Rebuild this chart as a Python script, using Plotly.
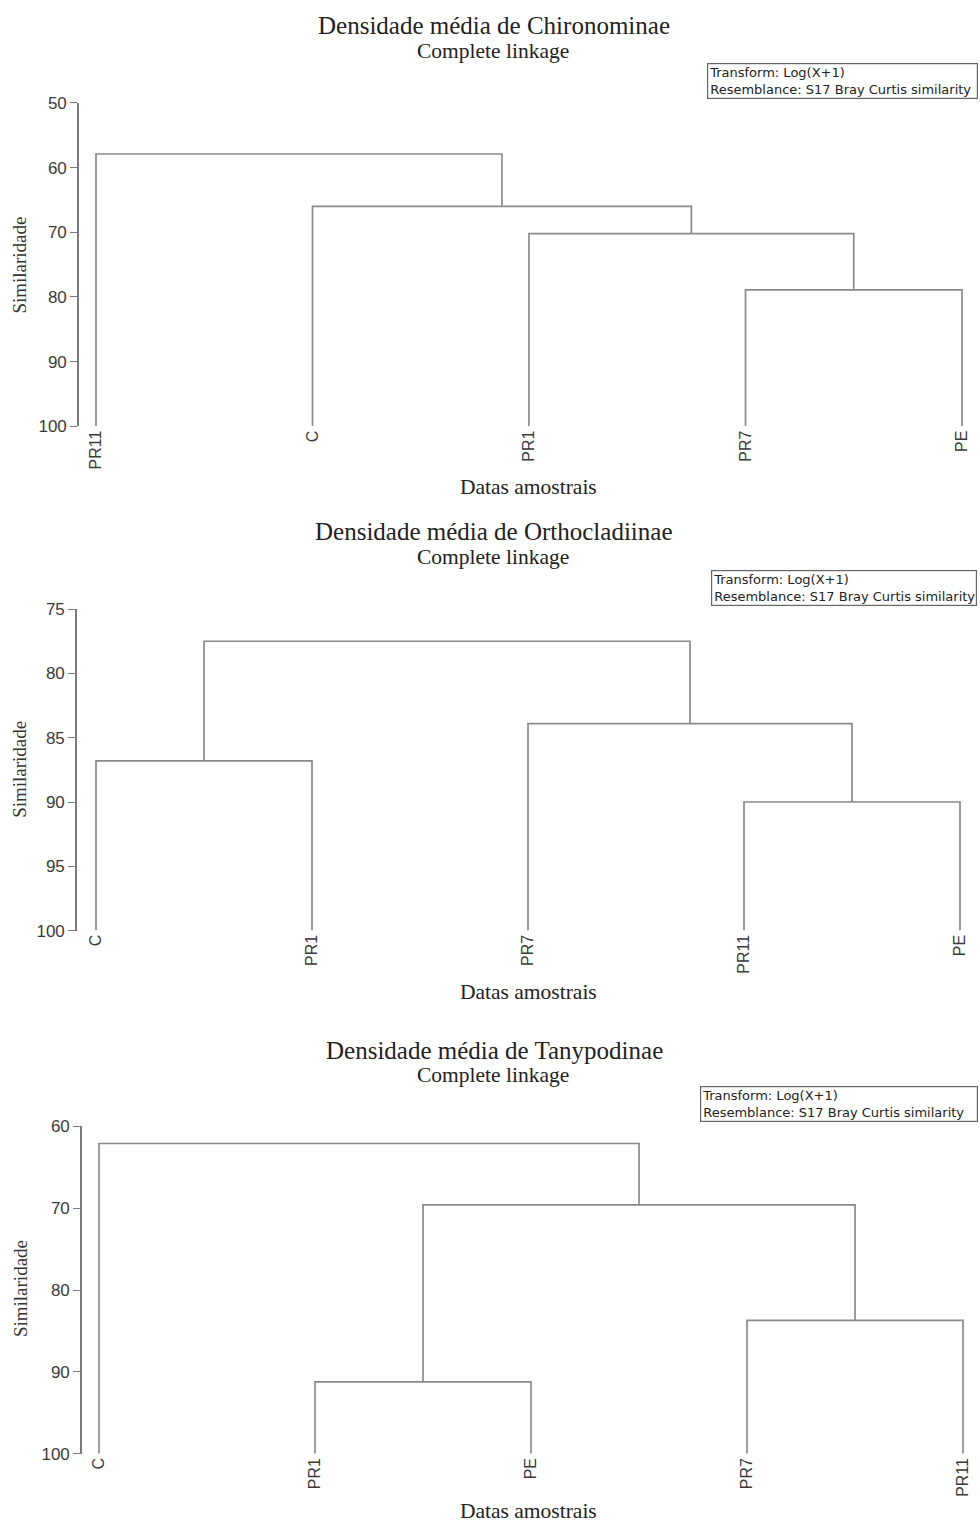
import plotly.graph_objects as go

W, H = 980, 1522
YOFF, YSC = 8, 0.989  # observed page mapping of the figure

# ---------------- data ----------------
titles = ["Densidade média de Chironominae",
          "Densidade média de Orthocladiinae",
          "Densidade média de Tanypodinae"]
subtitle = "Complete linkage"

leaves_chiro = ["PR11", "C", "PR1", "PR7", "PE"]
merge_left_chiro = [3, 2, 1, 0]
merge_right_chiro = [4, 5, 6, 7]
merge_height_chiro = [78.9, 70.2, 66.0, 57.9]

leaves_ortho = ["C", "PR1", "PR7", "PR11", "PE"]
merge_left_ortho = [0, 3, 2, 5]
merge_right_ortho = [1, 4, 6, 7]
merge_height_ortho = [86.8, 90.0, 83.9, 77.5]

leaves_tany = ["C", "PR1", "PE", "PR7", "PR11"]
merge_left_tany = [1, 3, 5, 0]
merge_right_tany = [2, 4, 6, 7]
merge_height_tany = [91.2, 83.7, 69.6, 62.1]

yticks_chiro = [50, 60, 70, 80, 90, 100]
yticks_ortho = [75, 80, 85, 90, 95, 100]
yticks_tany = [60, 70, 80, 90, 100]

legend_text = "Transform: Log(X+1)<br>Resemblance: S17 Bray Curtis similarity"
y_title = "Similaridade"
x_title = "Datas amostrais"

panels = [
    dict(leaves=leaves_chiro, left=merge_left_chiro, right=merge_right_chiro,
         height=merge_height_chiro, yticks=yticks_chiro),
    dict(leaves=leaves_ortho, left=merge_left_ortho, right=merge_right_ortho,
         height=merge_height_ortho, yticks=yticks_ortho),
    dict(leaves=leaves_tany, left=merge_left_tany, right=merge_right_tany,
         height=merge_height_tany, yticks=yticks_tany),
]

# ---------------- layout geometry (target page pixels) ----------------
geo = [
    dict(axis_x=79, leaf0=96, step=216.5, top=102, bottom=426,
         title_y=25, sub_y=50, xt_y=487, yt_y=265, box=(707, 62, 978)),
    dict(axis_x=77, leaf0=96, step=216, top=609, bottom=931,
         title_y=531, sub_y=557, xt_y=992, yt_y=770, box=(711, 570, 977)),
    dict(axis_x=82, leaf0=99, step=216, top=1127, bottom=1455,
         title_y=1051, sub_y=1076, xt_y=1512, yt_y=1290, box=(700, 1087, 978)),
]
right_px = 975


def py(y):
    """target page y pixel -> paper fraction"""
    return 1 - ((y - YOFF) / YSC) / H


LINE = "#8a8a8a"
AX = "#7a7a7a"
TXT = "#3a3a3a"
SERIF = "Liberation Serif, Times New Roman, serif"
SANS = "Liberation Sans, Arial, sans-serif"
LEGF = "DejaVu Sans, Arial, sans-serif"

fig = go.Figure()
annotations = []
layout_axes = {}

for i, (p, g) in enumerate(zip(panels, geo)):
    n = len(p["leaves"])
    xs = list(range(n))
    hs = [100.0] * n
    suffix = "" if i == 0 else str(i + 1)
    for l, r, h in zip(p["left"], p["right"], p["height"]):
        xl, xr = xs[l], xs[r]
        hl, hr = hs[l], hs[r]
        fig.add_trace(go.Scatter(
            x=[xl, xl, xr, xr], y=[hl, h, h, hr], mode="lines",
            line=dict(color=LINE, width=1.7), showlegend=False,
            hoverinfo="skip", xaxis="x" + suffix, yaxis="y" + suffix))
        xs.append((xl + xr) / 2)
        hs.append(h)

    yt = p["yticks"]
    x0 = (g["axis_x"] - g["leaf0"]) / g["step"]
    x1 = (right_px - g["leaf0"]) / g["step"]
    xk = "xaxis" + suffix
    yk = "yaxis" + suffix
    layout_axes[xk] = dict(
        domain=[g["axis_x"] / W, right_px / W], range=[x0, x1],
        anchor="y" + suffix, showgrid=False, zeroline=False, showline=False,
        tickmode="array", tickvals=list(range(n)), ticktext=p["leaves"],
        tickangle=-90, ticks="", tickfont=dict(family=SANS, size=16, color=TXT),
        fixedrange=True)
    layout_axes[yk] = dict(
        domain=[py(g["bottom"]), py(g["top"])],
        range=[max(yt), min(yt)], anchor="x" + suffix,
        showgrid=False, zeroline=False, showline=True, linecolor=AX, linewidth=1.6,
        ticks="outside", ticklen=7, tickcolor=AX, tickwidth=1.2,
        tickmode="array", tickvals=yt, ticktext=[str(v) for v in yt],
        tickfont=dict(family=SANS, size=17, color=TXT), fixedrange=True)

    bx0, by0, bx1 = g["box"]
    pad = 1
    annotations += [
        dict(text=titles[i], x=494 / W, y=py(g["title_y"]), xref="paper", yref="paper",
             xanchor="center", yanchor="middle", showarrow=False,
             font=dict(family=SERIF, size=25, color="#222")),
        dict(text=subtitle, x=493 / W, y=py(g["sub_y"]), xref="paper", yref="paper",
             xanchor="center", yanchor="middle", showarrow=False,
             font=dict(family=SERIF, size=21.5, color="#222")),
        dict(text=x_title, x=528 / W, y=py(g["xt_y"]), xref="paper", yref="paper",
             xanchor="center", yanchor="middle", showarrow=False,
             font=dict(family=SERIF, size=21.5, color="#222")),
        dict(text=y_title, x=20 / W, y=py(g["yt_y"]), xref="paper", yref="paper",
             xanchor="center", yanchor="middle", showarrow=False, textangle=-90,
             font=dict(family=SERIF, size=19, color="#333")),
        dict(text=legend_text, x=bx0 / W, y=py(by0),
             xref="paper", yref="paper", xanchor="left", yanchor="top",
             align="left", showarrow=False, bordercolor="#666", borderwidth=1.2,
             borderpad=pad, bgcolor="white", width=bx1 - bx0 - 2 * pad - 2,
             font=dict(family=LEGF, size=13, color="#222")),
    ]

fig.update_layout(
    width=W, height=H, margin=dict(l=0, r=0, t=0, b=0),
    paper_bgcolor="white", plot_bgcolor="white",
    annotations=annotations, showlegend=False, **layout_axes)

fig.write_html("out.html")
